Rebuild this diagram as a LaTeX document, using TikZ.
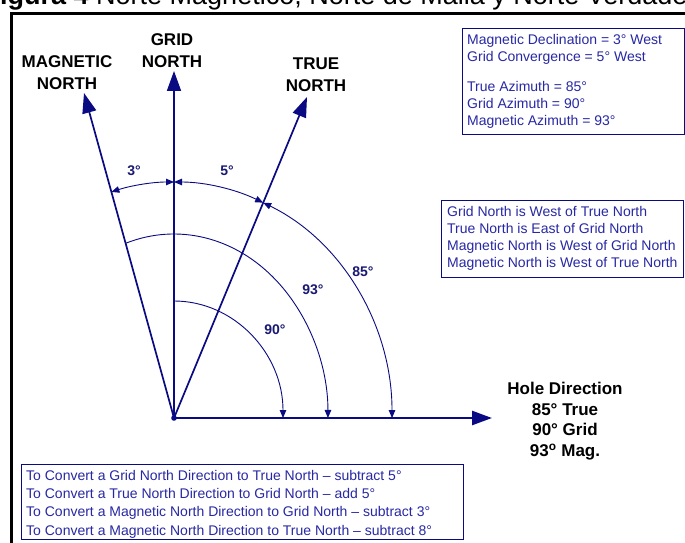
\documentclass[tikz,border=0pt]{standalone}
\usepackage{fontspec}
\setmainfont{Liberation Sans}
\usetikzlibrary{arrows.meta}
\definecolor{navyline}{RGB}{10,10,130}
\definecolor{boxtext}{RGB}{40,40,165}
\definecolor{labeltext}{RGB}{25,25,115}
\begin{document}
\begin{tikzpicture}[x=1pt,y=1pt,
  mainline/.style={navyline, line width=1.7pt},
  bigtip/.style={-{Triangle[length=20pt,width=14pt]}},
  arcline/.style={navyline, line width=0.9pt},
  twotips/.style={{Triangle[length=8pt,width=6.5pt]}-{Triangle[length=8pt,width=6.5pt]}},
  endtip/.style={-{Triangle[length=8pt,width=6.5pt]}},
  toplabel/.style={font=\fontsize{17}{22}\selectfont\bfseries, text=black, align=center, inner sep=0pt},
  anglabel/.style={font=\fontsize{14}{16}\selectfont\bfseries, text=labeltext, inner sep=0pt},
  infobox/.style={draw=navyline, line width=1pt, inner sep=0pt, anchor=north west},
  infotext/.style={text=boxtext, align=left, inner sep=0pt, anchor=north west},
]
\useasboundingbox (0,0) rectangle (685,542);
\fill[white] (0,0) rectangle (685,542);

% title (partly cut by the top edge, as in the reference)
\node[anchor=base west, inner sep=0pt, font=\fontsize{27}{30}\selectfont] (title) at (0,537)
  {\textbf{igura 4} Norte Magnético, Norte de Malla y Norte Verdadero};

% outer frame
\draw[black, line width=3pt] (11.5,-5) -- (11.5,528) -- (700,528);

% directions
\coordinate (O) at (174,124);
\coordinate (gridtip) at (174,471);
\coordinate (magtip) at (84,449);
\coordinate (truetip) at (307,445);
\coordinate (holetip) at (492,124);

\draw[mainline, bigtip] (O) -- (gridtip);
\draw[mainline, bigtip] (O) -- (magtip);
\draw[mainline, bigtip] (O) -- (truetip);
\draw[navyline, line width=2.6pt, bigtip] (O) -- (holetip);
\fill[navyline] (O) circle (2.8);

% angle arcs
\draw[arcline, twotips] ([yshift=236pt]O) arc[start angle=90, end angle=106.7, x radius=218, y radius=236];
\draw[arcline, twotips] ([yshift=236pt]O) arc[start angle=90, end angle=65.85, x radius=218, y radius=236];
\draw[arcline, twotips] ([shift={(89.2pt,215.3pt)}]O) arc[start angle=65.85, end angle=0, x radius=218, y radius=236];
\draw[arcline, endtip] ([shift={(-48.4pt,174.7pt)}]O) arc[start angle=108.3, end angle=0, x radius=154, y radius=184];
\draw[arcline, endtip] ([yshift=117pt]O) arc[start angle=90, end angle=0, x radius=109, y radius=117];

% angle labels
\node[anglabel] (l3) at (134,371) {3°};
\node[anglabel] (l5) at (227,371) {5°};
\node[anglabel] (l85) at (363,270) {85°};
\node[anglabel] (l93) at (313,252) {93°};
\node[anglabel] (l90) at (275,212) {90°};

% direction labels
\node[toplabel] (magname) at (67,469) {MAGNETIC\\NORTH};
\node[toplabel] (gridname) at (172,491) {GRID\\NORTH};
\node[toplabel] (truename) at (316,467) {TRUE\\NORTH};

\node[toplabel, font=\fontsize{17}{20.7}\selectfont\bfseries] (hole) at (565,121)
  {Hole Direction\\85° True\\90° Grid\\93\textsuperscript{o} Mag.};

% info boxes
\node[infobox, minimum width=222pt, minimum height=106pt] (declbox) at (462,514) {};
\node[infotext, font=\fontsize{14}{17}\selectfont] (decltext) at (467,508)
  {Magnetic Declination = 3° West\\Grid Convergence = 5° West\\[13pt]True Azimuth = 85°\\Grid Azimuth = 90°\\Magnetic Azimuth = 93°};

\node[infobox, minimum width=242pt, minimum height=77pt] (relbox) at (441,342) {};
\node[infotext, font=\fontsize{14}{17}\selectfont] (reltext) at (447,336)
  {Grid North is West of True North\\True North is East of Grid North\\Magnetic North is West of Grid North\\Magnetic North is West of True North};

\node[infobox, minimum width=442pt, minimum height=75pt] (convbox) at (21,78) {};
\node[infotext, font=\fontsize{14}{18.3}\selectfont] (convtext) at (26,72)
  {To Convert a Grid North Direction to True North – subtract 5°\\To Convert a True North Direction to Grid North – add 5°\\To Convert a Magnetic North Direction to Grid North – subtract 3°\\To Convert a Magnetic North Direction to True North – subtract 8°};
\end{tikzpicture}
\end{document}
